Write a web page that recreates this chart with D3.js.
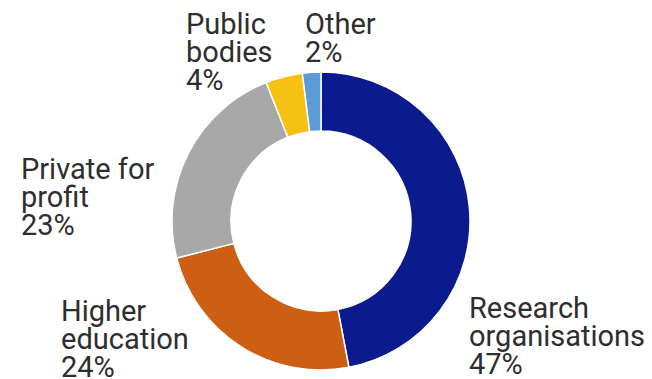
<!DOCTYPE html>
<html>
<head>
<meta charset="utf-8">
<script src="https://cdn.jsdelivr.net/npm/d3@7"></script>
<style>
  html, body { margin: 0; padding: 0; background: #fff; }
  svg { display: block; }
  .lbl { font-family: Roboto, "Liberation Sans", Arial, sans-serif; font-size: 29px; fill: #2e2e2e; }
</style>
</head>
<body>
<svg id="chart" width="652" height="379"></svg>
<script>
// data, clockwise from 12 o'clock
var categories = ["Research organisations", "Higher education", "Private for profit", "Public bodies", "Other"];
var shares = [47, 24, 23, 4, 2];
var colours = ["#0b1a8c", "#cc5f14", "#a8a8a8", "#f6c113", "#5b9bd8"];
// label text lines and where each block sits
var labelLines = [
    ["Research", "organisations", "47%"],
    ["Higher", "education", "24%"],
    ["Private for", "profit", "23%"],
    ["Public", "bodies", "4%"],
    ["Other", "2%"]
];
var labelPos = [[469, 318], [61, 321], [21, 179], [186, 34], [305, 34]];

var width = 652, height = 379;
var cx = 321, cy = 221;
var outerR = 149, innerR = 90;
var lineH = 28;

var svg = d3.select("#chart");

var pie = d3.pie()
    .sort(null)
    .value(function (d) { return d; });

var arc = d3.arc()
    .innerRadius(innerR)
    .outerRadius(outerR);

var g = svg.append("g")
    .attr("transform", "translate(" + cx + "," + cy + ")");

g.selectAll("path")
    .data(pie(shares))
    .enter()
    .append("path")
    .attr("d", arc)
    .attr("fill", function (d, i) { return colours[i]; })
    .attr("stroke", "#fff")
    .attr("stroke-width", 1.5);

// labels, one tspan per line
var labels = svg.selectAll("text.lbl")
    .data(labelLines)
    .enter()
    .append("text")
    .attr("class", "lbl")
    .attr("x", function (d, i) { return labelPos[i][0]; })
    .attr("y", function (d, i) { return labelPos[i][1]; });

labels.each(function (lines, i) {
    var t = d3.select(this);
    lines.forEach(function (line, j) {
        t.append("tspan")
            .attr("x", labelPos[i][0])
            .attr("y", labelPos[i][1] + j * lineH)
            .text(line);
    });
});
</script>
</body>
</html>
